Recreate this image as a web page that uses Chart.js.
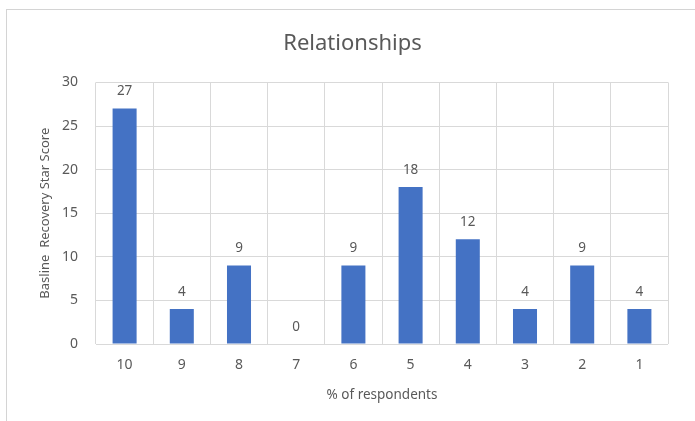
<!DOCTYPE html>
<html><head><meta charset="utf-8">
<script src="https://cdn.jsdelivr.net/npm/chart.js@4/dist/chart.umd.min.js"></script>
<style>
html,body{margin:0;padding:0;background:#fff;}
#wrap{position:relative;width:695px;height:421px;overflow:hidden;}
#frame{position:absolute;left:6px;top:9px;width:720px;height:440px;border-left:1px solid #d4d4d4;border-top:1px solid #d4d4d4;box-sizing:border-box;}
canvas{position:absolute;left:0;top:0;}
</style></head><body>
<div id="wrap"><div id="frame"></div><canvas id="c" width="695" height="421"></canvas></div>
<script>
const categories = ['10','9','8','7','6','5','4','3','2','1'];
const values = [27, 4, 9, 0, 9, 18, 12, 4, 9, 4];
const yTicks = [0, 5, 10, 15, 20, 25, 30];
const titleText = 'Relationships';
const xTitle = '% of respondents';
const yTitle = 'Basline  Recovery Star Score';

const FONT = "'Noto Sans', 'Open Sans', sans-serif";
const TXT = '#595959';

const dataLabels = {
  id: 'dataLabels',
  afterDatasetsDraw(chart) {
    const ctx = chart.ctx;
    const meta = chart.getDatasetMeta(0);
    ctx.save();
    ctx.font = '13.5px ' + FONT;
    ctx.fillStyle = TXT;
    ctx.textAlign = 'center';
    ctx.textBaseline = 'middle';
    meta.data.forEach((bar, i) => {
      ctx.fillText(String(values[i]), bar.x, bar.y - 17);
    });
    ctx.restore();
  }
};

new Chart(document.getElementById('c'), {
  type: 'bar',
  data: {
    labels: categories,
    datasets: [{
      data: values,
      backgroundColor: '#4472c4',
      borderWidth: 0,
      barPercentage: 0.42,
      categoryPercentage: 1.0
    }]
  },
  options: {
    responsive: false,
    animation: false,
    devicePixelRatio: 1,
    layout: { padding: { left: 37, right: 27, top: 0, bottom: 18 } },
    plugins: {
      legend: { display: false },
      tooltip: { enabled: false },
      title: {
        display: true,
        text: titleText,
        color: TXT,
        font: { family: FONT, size: 22, weight: 'normal' },
        padding: { top: 31, bottom: 25 }
      }
    },
    scales: {
      x: {
        grid: { color: '#d9d9d9', offset: true, drawTicks: false },
        border: { display: false },
        ticks: { color: TXT, font: { family: FONT, size: 14 }, padding: 13 },
        title: { display: true, text: xTitle, color: TXT, font: { family: FONT, size: 13.5 }, padding: { top: 0, bottom: 0 } }
      },
      y: {
        min: 0, max: 30,
        afterBuildTicks(scale) { scale.ticks = yTicks.map(v => ({ value: v })); },
        afterFit(scale) { scale.width = 59; },
        grid: { color: '#d9d9d9', drawTicks: false },
        border: { display: false },
        ticks: { color: TXT, font: { family: FONT, size: 14 }, padding: 18 },
        title: { display: true, text: yTitle, color: TXT, font: { family: FONT, size: 13 }, padding: { top: 0, bottom: 2 } }
      }
    }
  },
  plugins: [dataLabels]
});
</script>
</body></html>
